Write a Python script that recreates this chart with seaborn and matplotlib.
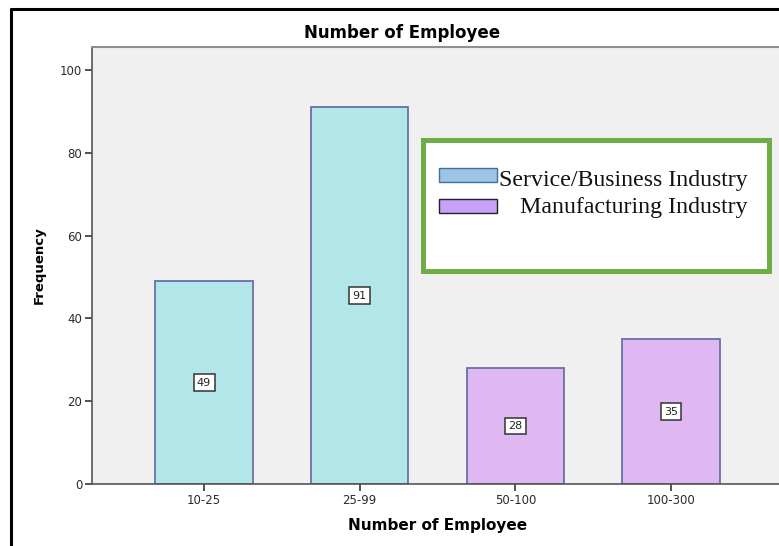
import matplotlib
matplotlib.use("Agg")
import matplotlib.pyplot as plt
import seaborn as sns
import pandas as pd
from matplotlib.patches import Rectangle

categories = ["10-25", "25-99", "50-100", "100-300"]
frequencies = [49, 91, 28, 35]
industry = ["Service/Business Industry", "Service/Business Industry",
            "Manufacturing Industry", "Manufacturing Industry"]
legend_labels = ["Service/Business Industry", "Manufacturing Industry"]
y_ticks = [0, 20, 40, 60, 80, 100]

W, H = 779, 546
sns.set_style("white")
plt.rcParams['font.family'] = ['DejaVu Sans']

fig = plt.figure(figsize=(W / 100, H / 100), dpi=100)

def fx(x):
    return x / W

def fy(y):
    return 1 - y / H

ax = fig.add_axes([fx(92), fy(484), (783 - 92) / W, (484 - 47) / H])
ax.set_facecolor("#f0f0f0")

df = pd.DataFrame({"cat": categories, "freq": frequencies, "ind": industry})
palette = {"Service/Business Industry": "#b3e6e8", "Manufacturing Industry": "#dfb8f2"}
sns.barplot(data=df, x="cat", y="freq", hue="ind", palette=palette, dodge=False,
            width=0.624, edgecolor="#6b6fa6", linewidth=1.3, saturation=1,
            legend=False, ax=ax)

for i, v in enumerate(frequencies):
    ax.text(i, v / 2, str(v), ha="center", va="center", fontsize=8, color="#222222",
            bbox=dict(boxstyle="square,pad=0.3", facecolor="white", edgecolor="#333333", linewidth=1.1))

ax.set_xlim(-0.72, 3.72)
ax.set_ylim(0, 105.6)
ax.set_yticks(y_ticks)
ax.tick_params(axis="both", direction="out", length=5, width=1.2, color="#333333",
               labelsize=8.5, labelcolor="#2b2b2b", left=True, bottom=True, pad=2)
for s in ["left", "bottom"]:
    ax.spines[s].set_color("#555555")
    ax.spines[s].set_linewidth(1.2)
ax.spines["top"].set_color("#909090")
ax.spines["top"].set_linewidth(1.5)
ax.spines["right"].set_visible(False)

ax.set_xlabel("Number of Employee", fontsize=11, fontweight="bold", labelpad=8, color="black")
ax.set_ylabel("Frequency", fontsize=9.5, fontweight="bold", labelpad=10, color="black")
fig.text(fx(402), fy(33), "Number of Employee", ha="center", va="center",
         fontsize=12, fontweight="bold", color="black")

# outer frame
fig.add_artist(plt.Line2D([fx(11), fx(11)], [fy(9), 0], color="black", lw=2.2))
fig.add_artist(plt.Line2D([fx(11), 1], [fy(9), fy(9)], color="black", lw=2.2))

# legend box
fig.add_artist(Rectangle((fx(423.5), fy(270.5)), (768.5 - 423.5) / W, (270.5 - 140.5) / H,
                         transform=fig.transFigure, facecolor="white",
                         edgecolor="#70ad47", linewidth=3.6))
handle_colors = ["#9dc3e6", "#c9a0f8"]
handle_edges = ["#41719c", "#222222"]
handle_tops = [168, 199]
text_centers = [181, 207]
for lab, c, e, ht, tc in zip(legend_labels, handle_colors, handle_edges, handle_tops, text_centers):
    fig.add_artist(Rectangle((fx(439), fy(ht + 14)), 58 / W, 14 / H,
                             transform=fig.transFigure, facecolor=c,
                             edgecolor=e, linewidth=1))
    fig.text(fx(748), fy(tc), lab, ha="right", va="center", fontsize=17.2,
             family=["Liberation Serif"], color="#111111")

fig.savefig("out.png", dpi=100)
